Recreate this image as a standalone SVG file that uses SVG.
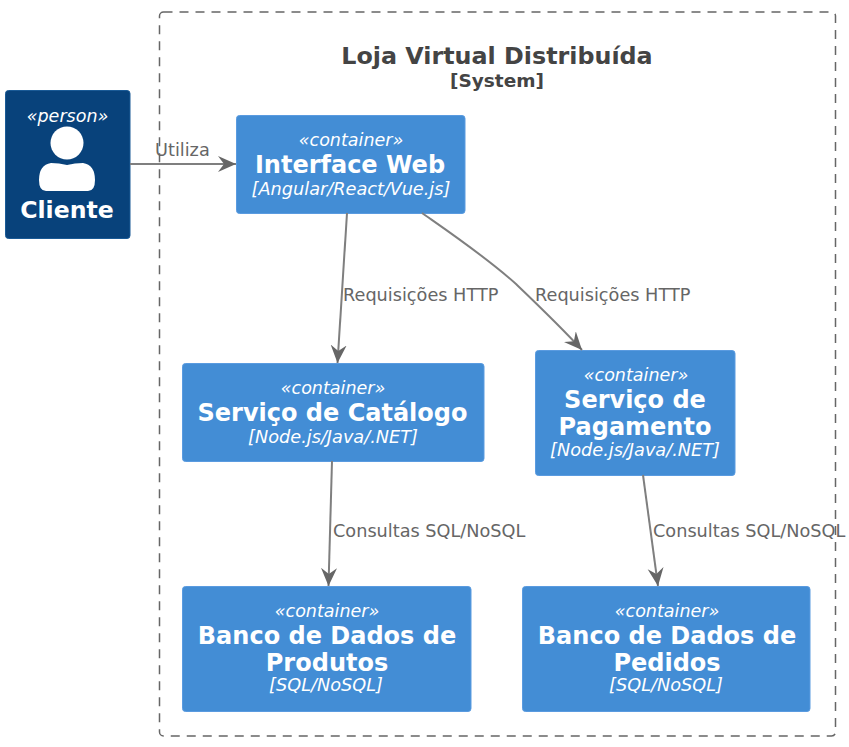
<svg xmlns="http://www.w3.org/2000/svg" width="849" height="747" viewBox="0 0 849 747">
<defs>
<marker id="arrow" markerUnits="userSpaceOnUse" markerWidth="20" markerHeight="18" refX="18" refY="9" orient="auto"><path d="M0,1 L18,9 L0,17 L6,9 Z" fill="#666666"/></marker>
</defs>
<style>
text{font-family:"DejaVu Sans",sans-serif;text-anchor:middle;fill:#ffffff}
.box{fill:#438dd5;stroke:#5a9be0;stroke-width:1}
.st{font-size:17.5px;font-style:italic}
.nm{font-size:24px;font-weight:bold}
.tc{font-size:17.7px;font-style:italic}
.lb{font-size:17.7px;fill:#666666;text-anchor:start}
.ln{fill:none;stroke:#7f7f7f;stroke-width:2;marker-end:url(#arrow)}
</style>
<rect width="849" height="747" fill="#ffffff"/>
<g id="boundary">
<rect x="159.500" y="12" width="676" height="724" rx="4" fill="none" stroke="#666666" stroke-width="1.5" stroke-dasharray="9 7"/>
<text x="497" y="64" font-size="23.8" font-weight="bold" style="fill:#444444">Loja Virtual Distribuída</text>
<text x="497" y="87" font-size="18.5" font-weight="bold" style="fill:#444444">[System]</text>
</g>
<g id="cliente">
<rect x="5.500" y="90.500" width="124.500" height="148" rx="3" fill="#08427b" stroke="#1a5a96"/>
<text class="st" x="67.500" y="121.500">«person»</text>
<circle cx="67" cy="143" r="16.500" fill="#ffffff"/>
<path d="M51,163 Q59,163 67,165 Q75,163 83,163 Q95,165 95,180 Q95,191 88,191 L46,191 Q39,191 39,180 Q39,165 51,163 Z" fill="#ffffff"/>
<text class="nm" x="67" y="218" style="font-size:23.6px">Cliente</text>
</g>
<g id="interface-web">
<rect class="box" x="236.500" y="115.500" width="228.500" height="98" rx="3"/>
<text class="st" x="351" y="145.500">«container»</text>
<text class="nm" x="350" y="172.500">Interface Web</text>
<text class="tc" x="351" y="195">[Angular/React/Vue.js]</text>
</g>
<g id="catalogo">
<rect class="box" x="182.500" y="363.500" width="301.500" height="98" rx="3"/>
<text class="st" x="333" y="393.500">«container»</text>
<text class="nm" x="332.500" y="420.500">Serviço de Catálogo</text>
<text class="tc" x="333" y="443">[Node.js/Java/.NET]</text>
</g>
<g id="pagamento">
<rect class="box" x="535.500" y="350.500" width="199.500" height="125" rx="3"/>
<text class="st" x="636" y="380.500">«container»</text>
<text class="nm" x="635" y="407.500">Serviço de</text>
<text class="nm" x="635" y="434.500">Pagamento</text>
<text class="tc" x="635" y="456">[Node.js/Java/.NET]</text>
</g>
<g id="bd-produtos">
<rect class="box" x="182.500" y="586.500" width="288.500" height="125" rx="3"/>
<text class="st" x="327" y="616.500">«container»</text>
<text class="nm" x="327" y="643.500">Banco de Dados de</text>
<text class="nm" x="327" y="670.500">Produtos</text>
<text class="tc" x="326" y="691">[SQL/NoSQL]</text>
</g>
<g id="bd-pedidos">
<rect class="box" x="522.500" y="586.500" width="287.500" height="125" rx="3"/>
<text class="st" x="667" y="616.500">«container»</text>
<text class="nm" x="667" y="643.500">Banco de Dados de</text>
<text class="nm" x="667" y="670.500">Pedidos</text>
<text class="tc" x="666" y="691">[SQL/NoSQL]</text>
</g>
<g id="connectors">
<path class="ln" d="M130,164 L236,164"/>
<path class="ln" d="M347,213 L337.500,363"/>
<path class="ln" d="M422,213 C452,234 486,257 516,284 C539,306 561,327 582,350"/>
<path class="ln" d="M332,461 L328.500,586"/>
<path class="ln" d="M643,475 L658,586"/>
<text class="lb" x="155" y="156">Utiliza</text>
<text class="lb" x="343" y="300.500">Requisições HTTP</text>
<text class="lb" x="535" y="300.500">Requisições HTTP</text>
<text class="lb" x="333" y="537">Consultas SQL/NoSQL</text>
<text class="lb" x="653" y="537">Consultas SQL/NoSQL</text>
</g>
</svg>
